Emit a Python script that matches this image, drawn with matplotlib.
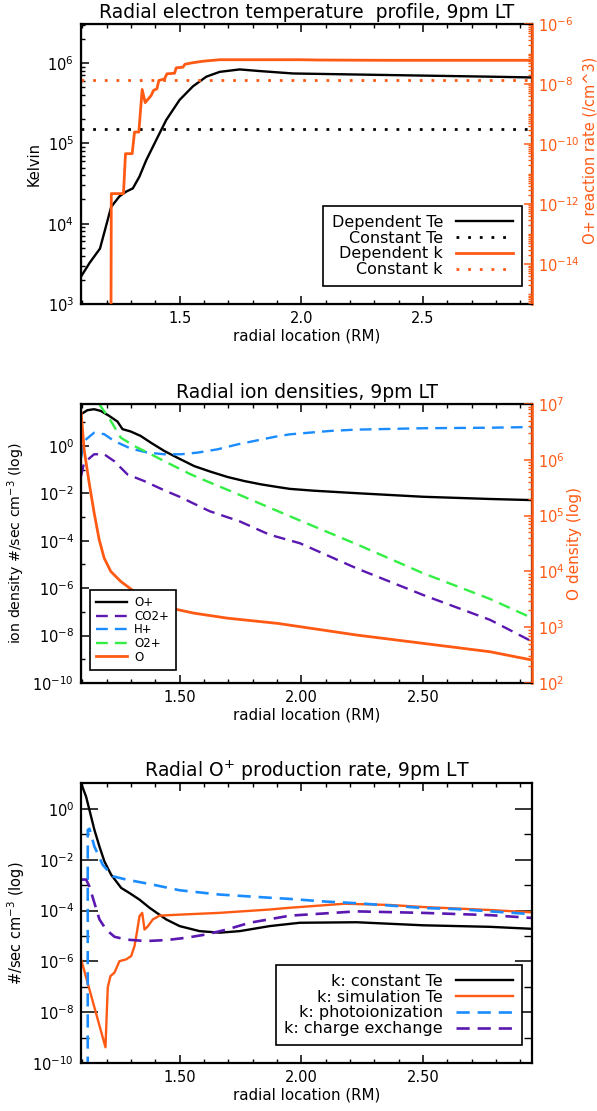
import numpy as np
import matplotlib
matplotlib.use('Agg')
import matplotlib.pyplot as plt
from matplotlib.ticker import FixedLocator, LogLocator, NullFormatter, MultipleLocator, FormatStrFormatter, FuncFormatter

ORANGE = '#ff5a14'
BLUE = '#1a8cff'
PURPLE = '#5a18b0'
GREEN = '#33ee44'

# ---- panel 1: electron temperature and O+ reaction rate ----
te_x = [1.095, 1.130, 1.173, 1.219, 1.253, 1.281, 1.308, 1.335, 1.363, 1.404, 1.445,
        1.500, 1.555, 1.610, 1.665, 1.747, 1.829, 1.966, 2.364, 2.776, 2.950]
te_dep = [2.19e3, 3.24e3, 4.9e3, 1.62e4, 2.19e4, 2.51e4, 2.75e4, 3.85e4, 6.17e4, 1.10e5, 1.95e5,
          3.47e5, 5.13e5, 6.76e5, 7.76e5, 8.32e5, 7.94e5, 7.41e5, 7.08e5, 6.76e5, 6.61e5]
te_const = 1.5e5

k_x = [1.2175, 1.2195, 1.2695, 1.2778, 1.3053, 1.3148, 1.3326, 1.3463, 1.3587, 1.3834, 1.393,
       1.4067, 1.415, 1.4383, 1.448, 1.4794, 1.4863, 1.5137, 1.522, 1.555, 1.5961, 1.6646,
       1.9938, 2.076, 2.364, 2.950]
k_dep = [1e-18, 2.24e-12, 2.24e-12, 4.79e-11, 4.79e-11, 2.51e-10, 2.51e-10, 6.61e-9, 2.40e-9, 4.17e-9, 6.17e-9,
         6.92e-9, 1.32e-8, 1.48e-8, 2.19e-8, 2.29e-8, 3.47e-8, 3.63e-8, 4.57e-8, 5.13e-8, 5.75e-8, 6.46e-8,
         6.46e-8, 6.31e-8, 6.17e-8, 6.17e-8]
k_const = 1.38e-8

# ---- panel 2: ion densities ----
op_x = [1.0955, 1.1214, 1.149, 1.1761, 1.2107, 1.2449, 1.2654, 1.2996, 1.3407, 1.3819, 1.437,
        1.4918, 1.5605, 1.6288, 1.6975, 1.7663, 1.8346, 1.9033, 1.953, 2.050, 2.227, 2.500,
        2.776, 2.950]
op_n = [21.9, 32.4, 35.5, 30.2, 18.6, 10.7, 5.13, 4.07, 2.63, 1.38, 0.617,
        0.316, 0.141, 0.0813, 0.049, 0.0331, 0.024, 0.0185, 0.0155, 0.013, 0.0102, 7.2e-3,
        5.8e-3, 5.2e-3]

co2_x = [1.0955, 1.1076, 1.149, 1.190, 1.2313, 1.286, 1.3547, 1.437, 1.500, 1.623, 1.747,
         1.870, 1.994, 2.227, 2.500, 2.776, 2.950]
co2_n = [0.054, 0.195, 0.447, 0.447, 0.229, 0.063, 0.0331, 0.0135, 7.2e-3, 1.78e-3, 6.6e-4,
         1.8e-4, 7.9e-5, 6.9e-6, 5.2e-7, 4.6e-8, 5.5e-9]

hp_x = [1.0955, 1.1076, 1.149, 1.190, 1.2313, 1.2996, 1.3683, 1.437, 1.5053, 1.5741, 1.6564,
        1.7387, 1.821, 1.8963, 1.953, 2.117, 2.227, 2.500, 2.776, 2.950]
hp_n = [0.316, 1.62, 3.63, 3.16, 1.62, 0.776, 0.525, 0.447, 0.447, 0.525, 0.724,
        1.17, 1.74, 2.5, 3.1, 4.3, 4.9, 5.6, 5.9, 6.3]

o2_x = [1.130, 1.1696, 1.2173, 1.2584, 1.3136, 1.3819, 1.4642, 1.5465, 1.6288, 1.7111, 1.7934,
        1.866, 1.994, 2.227, 2.500, 2.776, 2.950]
o2_n = [290.0, 58.9, 11.5, 2.24, 1.0, 0.447, 0.166, 0.063, 0.0275, 0.0123, 5.4e-3,
        2.6e-3, 7.2e-4, 7.2e-5, 4.3e-6, 3.5e-7, 5.4e-8]

o_x = [1.0955, 1.1076, 1.1284, 1.149, 1.1696, 1.190, 1.2173, 1.2584, 1.3136, 1.3819, 1.4642,
       1.5605, 1.6975, 1.9033, 2.2272, 2.5012, 2.7757, 2.950]
o_n = [7.08e6, 1.55e6, 3.89e5, 1.12e5, 3.72e4, 1.74e4, 1.0e4, 6.6e3, 4.37e3, 2.88e3, 2.19e3,
       1.78e3, 1.45e3, 1.17e3, 724, 513, 363, 257]

# ---- panel 3: O+ production rate ----
kc_x = [1.0955, 1.116, 1.1296, 1.150, 1.1708, 1.1914, 1.2189, 1.2601, 1.2942, 1.3354, 1.3765,
        1.4453, 1.500, 1.5823, 1.6646, 1.7469, 1.8704, 1.9938, 2.2272, 2.5012, 2.7757, 2.950]
kc_p = [10.2, 3.02, 0.912, 0.151, 0.0331, 8.5e-3, 2.57e-3, 7.8e-4, 4.9e-4, 2.69e-4, 1.29e-4,
        4.47e-5, 2.45e-5, 1.55e-5, 1.35e-5, 1.55e-5, 2.45e-5, 3.31e-5, 3.47e-5, 2.63e-5, 2.29e-5, 1.91e-5]

ks_x = [1.0955, 1.1955, 1.2049, 1.216, 1.2325, 1.2531, 1.2807, 1.3012, 1.3148, 1.3243, 1.3354,
        1.3465, 1.356, 1.3695, 1.3901, 1.4177, 1.500, 1.6646, 1.8704, 1.953, 2.178, 2.364,
        2.500, 2.776, 2.950]
ks_p = [1.20e-6, 4.17e-10, 9.3e-8, 2.63e-7, 3.63e-7, 1.02e-6, 1.20e-6, 1.62e-6, 3.98e-6, 1.32e-5, 6.03e-5,
        8.13e-5, 1.78e-5, 2.40e-5, 4.47e-5, 6.31e-5, 6.92e-5, 8.13e-5, 1.10e-4, 1.29e-4, 1.86e-4, 1.66e-4,
        1.38e-4, 1.05e-4, 8.5e-5]

kp_x = [1.1226, 1.1228, 1.1296, 1.150, 1.1844, 1.2255, 1.2807, 1.3901, 1.500, 1.6646, 1.8704,
        1.953, 2.089, 2.227, 2.364, 2.500, 2.638, 2.776, 2.950]
kp_p = [1e-12, 0.151, 0.166, 0.0331, 6.3e-3, 2.24e-3, 1.66e-3, 1.05e-3, 6.3e-4, 4.27e-4, 3.2e-4,
        2.88e-4, 2.29e-4, 1.95e-4, 1.58e-4, 1.26e-4, 1.15e-4, 9.3e-5, 7.2e-5]

kx_x = [1.0955, 1.116, 1.1296, 1.150, 1.1708, 1.1984, 1.2325, 1.2807, 1.3628, 1.4453, 1.5276,
        1.6099, 1.6922, 1.7881, 1.9527, 2.2272, 2.5012, 2.7757, 2.950]
kx_p = [1.66e-3, 1.66e-3, 8.9e-4, 2.0e-4, 4.47e-5, 1.78e-5, 9.3e-6, 7.2e-6, 6.3e-6, 6.9e-6, 8.5e-6,
        1.15e-5, 1.78e-5, 3.31e-5, 6.3e-5, 9.3e-5, 8.1e-5, 6.6e-5, 5.1e-5]

W, H = 597, 1111
LW = 1.7
DASH = (5, 3)
DOT = (1, 3.2)


def pow_label(v, pos):
    return r'$\mathdefault{10^{%d}}$' % int(round(np.log10(v)))


def style_axes(ax, xfmt):
    ax.set_xlim(1.095, 2.948)
    ax.xaxis.set_major_locator(FixedLocator([1.5, 2.0, 2.5]))
    ax.xaxis.set_minor_locator(MultipleLocator(0.1))
    ax.xaxis.set_major_formatter(FormatStrFormatter(xfmt))
    ax.set_xlabel('radial location (RM)', fontsize=10.8, labelpad=2)
    ax.tick_params(axis='both', which='both', direction='in', top=True, right=True,
                   labelsize=10.5, pad=5)
    ax.tick_params(which='major', length=6, width=1.1)
    ax.tick_params(which='minor', length=3, width=1.0)
    for s in ax.spines.values():
        s.set_linewidth(1.6)


def style_right(axr):
    axr.tick_params(axis='y', which='both', direction='in', colors=ORANGE, labelsize=10.5, pad=4)
    axr.tick_params(axis='y', which='major', length=6, width=1.1)
    axr.tick_params(axis='y', which='minor', length=3, width=1.0)
    axr.spines['right'].set_color(ORANGE)
    axr.spines['right'].set_linewidth(1.8)


fig = plt.figure(figsize=(W / 100, H / 100), dpi=100)

# ---------------- top panel ----------------
ax1 = fig.add_axes([81 / W, 1 - 304 / H, 451 / W, 280 / H])
ax1.set_yscale('log')
ax1.set_ylim(1e3, 3.06e6)
h1, = ax1.plot(te_x, te_dep, color='black', lw=LW)
h2 = ax1.axhline(te_const, color='black', lw=2.0, dashes=DOT)
style_axes(ax1, '%.1f')
ax1.yaxis.set_major_locator(LogLocator(base=10, numticks=20))
ax1.yaxis.set_minor_locator(LogLocator(base=10, subs=np.arange(2, 10), numticks=20))
ax1.yaxis.set_major_formatter(FuncFormatter(pow_label))
ax1.yaxis.set_minor_formatter(NullFormatter())
ax1.set_ylabel('Kelvin', fontsize=10.5, labelpad=4)
ax1.set_title('Radial electron temperature  profile, 9pm LT', fontsize=13.5, pad=4)

ax1r = ax1.twinx()
ax1r.set_yscale('log')
ax1r.set_ylim(4.7e-16, 1e-6)
ax1r.set_xlim(1.095, 2.948)
h3, = ax1r.plot(k_x, k_dep, color=ORANGE, lw=LW + 0.3)
h4 = ax1r.axhline(k_const, color=ORANGE, lw=2.0, dashes=DOT)
style_right(ax1r)
ax1r.yaxis.set_major_locator(FixedLocator([1e-6, 1e-8, 1e-10, 1e-12, 1e-14]))
ax1r.yaxis.set_minor_locator(LogLocator(base=10, subs=np.arange(1, 10), numticks=40))
ax1r.yaxis.set_major_formatter(FuncFormatter(pow_label))
ax1r.yaxis.set_minor_formatter(NullFormatter())
ax1r.set_ylabel('O+ reaction rate (/cm^3)', color=ORANGE, fontsize=10.5, labelpad=1)
ax1r.yaxis.set_label_coords(1.113, 0.55)
leg = ax1r.legend([h1, h2, h3, h4], ['Dependent Te', 'Constant Te', 'Dependent k', 'Constant k'],
                  loc='lower right', bbox_to_anchor=(1 - 10 / 451, 18 / 280), borderaxespad=0,
                  markerfirst=False, fontsize=11.5, handlelength=3.6, handletextpad=0.8,
                  labelspacing=0.05, fancybox=False, framealpha=1, edgecolor='black', borderpad=0.55)
leg.get_frame().set_linewidth(1.2)

# ---------------- middle panel ----------------
ax2 = fig.add_axes([81 / W, 1 - 683 / H, 451 / W, 279 / H])
ax2.set_yscale('log')
ax2.set_ylim(1e-10, 59)
g1, = ax2.plot(op_x, op_n, color='black', lw=LW)
g2, = ax2.plot(co2_x, co2_n, color=PURPLE, lw=LW, dashes=DASH)
g3, = ax2.plot(hp_x, hp_n, color=BLUE, lw=LW, dashes=DASH)
g4, = ax2.plot(o2_x, o2_n, color=GREEN, lw=LW, dashes=DASH)
style_axes(ax2, '%.2f')
ax2.yaxis.set_major_locator(FixedLocator([1e0, 1e-2, 1e-4, 1e-6, 1e-8, 1e-10]))
ax2.yaxis.set_minor_locator(FixedLocator([1e1, 1e-1, 1e-3, 1e-5, 1e-7, 1e-9]))
ax2.yaxis.set_major_formatter(FuncFormatter(pow_label))
ax2.yaxis.set_minor_formatter(NullFormatter())
ax2.set_ylabel(r'ion density #/sec cm$^{-3}$ (log)', fontsize=10.2, labelpad=4)
ax2.set_title('Radial ion densities, 9pm LT', fontsize=13.5, pad=4)

ax2r = ax2.twinx()
ax2r.set_yscale('log')
ax2r.set_ylim(1e2, 1e7)
ax2r.set_xlim(1.095, 2.948)
g5, = ax2r.plot(o_x, o_n, color=ORANGE, lw=LW + 0.3)
style_right(ax2r)
ax2r.yaxis.set_major_locator(LogLocator(base=10, numticks=20))
ax2r.yaxis.set_minor_locator(LogLocator(base=10, subs=np.arange(2, 10), numticks=20))
ax2r.yaxis.set_major_formatter(FuncFormatter(pow_label))
ax2r.yaxis.set_minor_formatter(NullFormatter())
ax2r.set_ylabel('O density (log)', color=ORANGE, fontsize=11, labelpad=2)
leg = ax2r.legend([g1, g2, g3, g4, g5], ['O+', 'CO2+', 'H+', 'O2+', 'O'],
                  loc='lower left', bbox_to_anchor=(9 / 451, 13 / 279), borderaxespad=0,
                  fontsize=8.5, handlelength=2.6, handletextpad=0.6, labelspacing=0.05,
                  fancybox=False, framealpha=1, edgecolor='black', borderpad=0.55)
leg.get_frame().set_linewidth(1.2)

# ---------------- bottom panel ----------------
ax3 = fig.add_axes([81 / W, 1 - 1063 / H, 451 / W, 280 / H])
ax3.set_yscale('log')
ax3.set_ylim(1e-10, 10.5)
p1, = ax3.plot(kc_x, kc_p, color='black', lw=LW)
p2, = ax3.plot(ks_x, ks_p, color=ORANGE, lw=LW)
p3, = ax3.plot(kp_x, kp_p, color=BLUE, lw=LW + 0.2, dashes=DASH)
p4, = ax3.plot(kx_x, kx_p, color=PURPLE, lw=LW + 0.2, dashes=DASH)
style_axes(ax3, '%.2f')
ax3.yaxis.set_major_locator(FixedLocator([1e0, 1e-2, 1e-4, 1e-6, 1e-8, 1e-10]))
ax3.yaxis.set_minor_locator(FixedLocator([1e-1, 1e-3, 1e-5, 1e-7, 1e-9]))
ax3.yaxis.set_major_formatter(FuncFormatter(pow_label))
ax3.yaxis.set_minor_formatter(NullFormatter())
ax3.tick_params(axis='y', which='major', length=12)
ax3.tick_params(axis='y', which='minor', length=6)
ax3.set_ylabel(r'#/sec cm$^{-3}$ (log)', fontsize=10.5, labelpad=4)
ax3.set_title(r'Radial O$^{+}$ production rate, 9pm LT', fontsize=13.5, pad=4)
leg = ax3.legend([p1, p2, p3, p4],
                 ['k: constant Te', 'k: simulation Te', 'k: photoionization', 'k: charge exchange'],
                 loc='lower right', bbox_to_anchor=(1 - 10 / 451, 18 / 280), borderaxespad=0,
                 markerfirst=False, fontsize=11.5, handlelength=3.6, handletextpad=0.8,
                 labelspacing=0.05, fancybox=False, framealpha=1, edgecolor='black', borderpad=0.55)
leg.get_frame().set_linewidth(1.2)

fig.savefig('out.png', dpi=100)
